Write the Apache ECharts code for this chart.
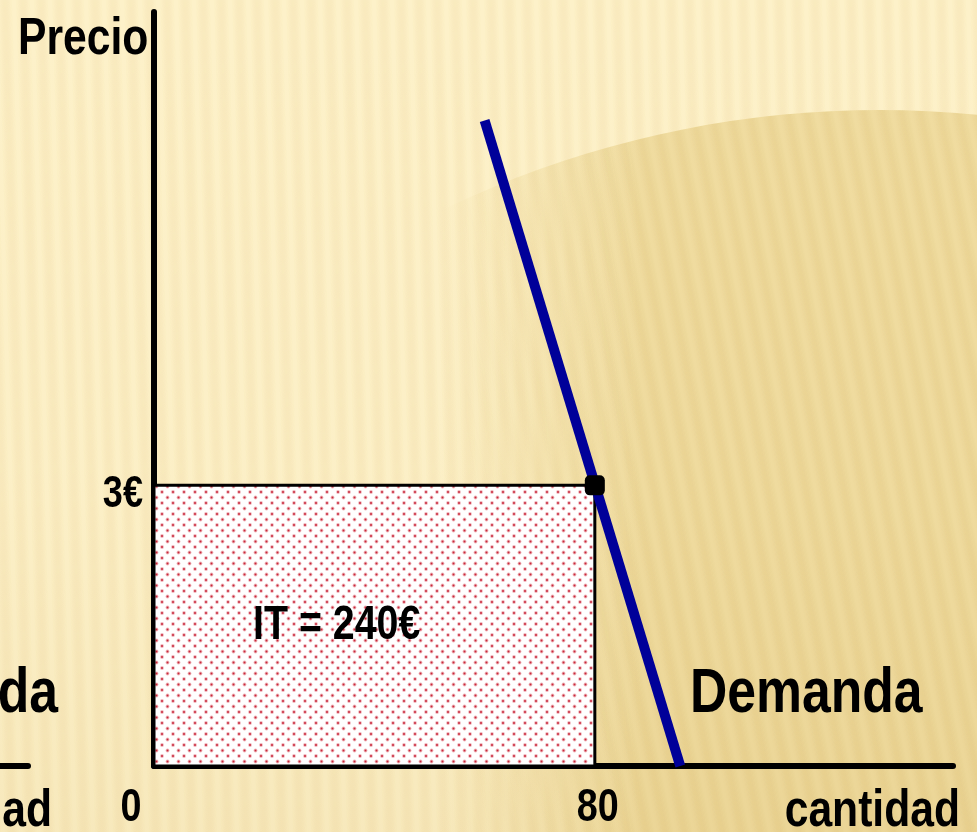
<!DOCTYPE html>
<html>
<head>
<meta charset="utf-8">
<script src="https://cdn.jsdelivr.net/npm/echarts@6/dist/echarts.min.js"></script>
<style>
  html, body { margin: 0; padding: 0; }
  #chart { width: 977px; height: 832px; }
</style>
</head>
<body>
<div id="chart"></div>
<script>
// ---- data ----
const quantityTicks = [80];
const quantityTickLabels = ['80'];
const priceTicks = [3];
const priceTickLabels = ['3€'];
const originLabel = '0';
const demandQuantity = [60, 95.5];
const demandPrice = [6.9, 0];
const equilibriumQuantity = 80;
const equilibriumPrice = 3;
const axisNames = { price: 'Precio', quantity: 'cantidad', curve: 'Demanda' };

const FONT = "'Liberation Sans', Arial, sans-serif";
const NARROW = 0.82; // horizontal squeeze for a condensed bold look

// ---- textures ----
function stripes(g, w, h, period, slope, color, amp, base) {
  for (let x = -300; x < w + 300; x++) {
    const s = Math.sin(2 * Math.PI * x / period);
    const a = base + amp * s;
    g.fillStyle = color + a.toFixed(3) + ')';
    g.beginPath();
    g.moveTo(x, 0);
    g.lineTo(x + 1, 0);
    g.lineTo(x + 1 + slope * h, h);
    g.lineTo(x + slope * h, h);
    g.closePath();
    g.fill();
  }
}

function makeBackground(w, h) {
  const c = document.createElement('canvas');
  c.width = w; c.height = h;
  const g = c.getContext('2d');
  g.fillStyle = '#FDF1C9';
  g.fillRect(0, 0, w, h);
  stripes(g, w, h, 18, 0.03, 'rgba(205,165,75,', 0.04, 0.04);

  // darker disc on the right with a soft left flank
  g.save();
  g.beginPath();
  g.arc(880, 1120, 1010, 0, Math.PI * 2);
  g.clip();
  const hg = g.createLinearGradient(440, 0, 640, 0);
  hg.addColorStop(0, 'rgba(240,220,160,0)');
  hg.addColorStop(1, 'rgba(240,220,160,1)');
  g.fillStyle = hg;
  g.fillRect(0, 0, w, h);
  const mask = document.createElement('canvas');
  mask.width = w; mask.height = h;
  const m = mask.getContext('2d');
  stripes(m, w, h, 19, 0.2, 'rgba(190,150,60,', 0.045, 0.045);
  m.globalCompositeOperation = 'destination-in';
  const mg = m.createLinearGradient(460, 0, 640, 0);
  mg.addColorStop(0, 'rgba(0,0,0,0)');
  mg.addColorStop(1, 'rgba(0,0,0,1)');
  m.fillStyle = mg;
  m.fillRect(0, 0, w, h);
  g.drawImage(mask, 0, 0);
  g.restore();

  // overall darkening toward the bottom
  const lg = g.createLinearGradient(0, 0, 0, h);
  lg.addColorStop(0, 'rgba(190,150,60,0)');
  lg.addColorStop(0.6, 'rgba(190,150,60,0.02)');
  lg.addColorStop(1, 'rgba(190,150,60,0.09)');
  g.fillStyle = lg;
  g.fillRect(0, 0, w, h);
  return c;
}

function makeDots() {
  const c = document.createElement('canvas');
  c.width = 11; c.height = 11;
  const g = c.getContext('2d');
  g.fillStyle = '#ffffff';
  g.fillRect(0, 0, 11, 11);
  [[2.5, 2.5], [8, 8]].forEach(([x, y]) => {
    g.beginPath(); g.arc(x, y, 1.9, 0, Math.PI * 2);
    g.fillStyle = 'rgba(225,120,130,0.55)'; g.fill();
    g.beginPath(); g.arc(x, y, 1.0, 0, Math.PI * 2);
    g.fillStyle = '#C8283C'; g.fill();
  });
  return c;
}

const chart = echarts.init(document.getElementById('chart'), null, { renderer: 'canvas' });

chart.setOption({
  backgroundColor: { image: makeBackground(977, 832), repeat: 'no-repeat' },
  animation: false,
  grid: { left: 154, top: 12, width: 799, height: 754, containLabel: false },
  xAxis: {
    type: 'value', min: 0, max: 145,
    axisLine: { show: true, onZero: false, lineStyle: { color: '#000', width: 6, cap: 'round' } },
    axisTick: { show: false },
    splitLine: { show: false },
    axisLabel: { show: false }
  },
  yAxis: {
    type: 'value', min: 0, max: 8.06,
    axisLine: { show: true, onZero: false, lineStyle: { color: '#000', width: 6, cap: 'round' } },
    axisTick: { show: false },
    splitLine: { show: false },
    axisLabel: { show: false }
  },
  series: [
    {
      // total revenue rectangle: price x quantity
      type: 'line', data: [], z: 1,
      markArea: {
        silent: true,
        itemStyle: {
          color: { image: makeDots(), repeat: 'repeat' },
          borderColor: '#000', borderWidth: 3
        },
        data: [[{ coord: [0, 0] }, { coord: [equilibriumQuantity, equilibriumPrice] }]]
      }
    },
    {
      name: axisNames.curve,
      type: 'line', z: 3,
      data: demandQuantity.map((q, i) => [q, demandPrice[i]]),
      showSymbol: false, symbol: 'none',
      lineStyle: { color: '#000099', width: 10, cap: 'butt' }
    },
    {
      type: 'scatter', z: 4,
      data: [[equilibriumQuantity, equilibriumPrice]],
      symbol: 'roundRect', symbolSize: 20,
      itemStyle: { color: '#000', opacity: 1 }
    }
  ]
});

// ---- tick labels and annotations ----
const toPx = v => chart.convertToPixel({ gridIndex: 0 }, v);
const origin = toPx([0, 0]);
const revenue = equilibriumPrice * equilibriumQuantity;

function txt(text, x, y, size, align) {
  return {
    type: 'text', z: 10, x, y, scaleX: NARROW,
    style: {
      text, x: 0, y: 0, fill: '#000', font: 'bold ' + size + 'px ' + FONT,
      align: align || 'left', verticalAlign: 'middle'
    }
  };
}

const tickTexts = [];
quantityTicks.forEach((q, i) => {
  const p = toPx([q, 0]);
  tickTexts.push(txt(quantityTickLabels[i], p[0] + 3, p[1] + 42, 46, 'center'));
});
priceTicks.forEach((v, i) => {
  const p = toPx([0, v]);
  tickTexts.push(txt(priceTickLabels[i], p[0] - 11, p[1] + 10, 44, 'right'));
});

chart.setOption({
  graphic: tickTexts.concat([
    txt(originLabel, origin[0] - 23, origin[1] + 42, 46, 'center'),
    txt(axisNames.price, 18, 40, 52),
    txt(axisNames.curve, 690, 695, 63),
    txt(axisNames.quantity, 960, 812, 52, 'right'),
    txt('da', 58, 695, 63, 'right'),
    txt('ad', 52, 812, 52, 'right'),
    txt('IT = ' + revenue + '€', 253, 626, 48),
    {
      type: 'line', z: 10,
      shape: { x1: 0, y1: origin[1], x2: 28, y2: origin[1] },
      style: { stroke: '#000', lineWidth: 6, lineCap: 'round' }
    }
  ])
});
</script>
</body>
</html>
